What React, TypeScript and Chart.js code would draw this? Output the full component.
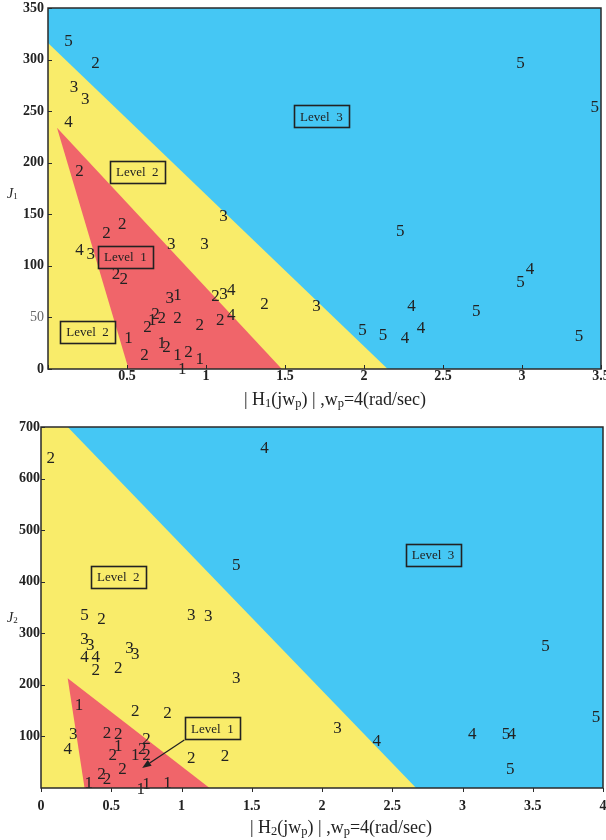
import React, { useEffect, useRef } from 'react';
import { Chart, registerables } from 'chart.js';
Chart.register(...registerables);

const SERIF = '"Liberation Serif", "DejaVu Serif", serif';

// ---------- Chart 1 data ----------
const j1XTicks = [0, 0.5, 1, 1.5, 2, 2.5, 3, 3.5];
const j1YTicks = [0, 50, 100, 150, 200, 250, 300, 350];
const j1Level3 = [[0, 0], [3.5, 0], [3.5, 350], [0, 350]];
const j1Level2 = [[0, 0], [0, 316], [2.15, 0]];
const j1Level1 = [[0.057, 234], [0.51, 0], [1.48, 0]];
const j1X = [0.13, 0.30, 0.165, 0.235, 0.13, 0.20, 2.99, 3.46, 1.11, 0.47, 0.37, 0.20, 0.27, 0.78, 0.99, 0.43, 0.48, 0.77, 0.82, 1.06, 1.11, 1.16, 1.37, 1.16, 1.09, 0.96, 0.82, 0.72, 0.68, 0.66, 0.63, 0.51, 0.72, 0.75, 0.61, 0.82, 0.89, 0.96, 0.85, 2.23, 3.05, 2.99, 1.70, 2.30, 2.71, 2.36, 1.99, 2.12, 2.26, 3.36];
const j1Y = [319, 298, 274, 263, 240, 193, 298, 255, 149, 142, 133, 116, 112, 122, 122, 93, 88, 70, 73, 72, 74, 78, 64, 53, 48, 44, 50, 50, 54, 48, 42, 31, 26, 22, 15, 15, 17, 11, 1, 135, 98, 85, 62, 62, 57, 41, 39, 34, 31, 33];
const j1Labels = ['5', '2', '3', '3', '4', '2', '5', '5', '3', '2', '2', '4', '3', '3', '3', '2', '2', '3', '1', '2', '3', '4', '2', '4', '2', '2', '2', '2', '2', '1', '2', '1', '1', '2', '2', '1', '2', '1', '1', '5', '4', '5', '3', '4', '5', '4', '5', '5', '4', '5'];
const j1BoxText = ['Level  2', 'Level  3', 'Level  1', 'Level  2'];
const j1BoxX = [0.565, 1.73, 0.49, 0.25];
const j1BoxY = [191, 245, 109, 36];

// ---------- Chart 2 data ----------
const j2XTicks = [0, 0.5, 1, 1.5, 2, 2.5, 3, 3.5, 4];
const j2YTicks = [100, 200, 300, 400, 500, 600, 700];
const j2Level3 = [[0, 0], [4, 0], [4, 700], [0, 700]];
const j2Level2 = [[0, 0], [0, 700], [0.19, 700], [2.67, 0]];
const j2Level1 = [[0.19, 213], [0.31, 0], [1.2, 0]];
const j2X = [0.07, 1.59, 1.39, 0.31, 0.43, 1.07, 1.19, 0.31, 0.35, 0.31, 0.39, 0.63, 0.67, 0.39, 0.55, 1.39, 0.27, 0.67, 0.90, 0.23, 0.19, 0.47, 0.55, 0.55, 0.51, 0.75, 0.72, 0.67, 0.75, 0.58, 0.43, 0.47, 0.34, 0.75, 0.71, 0.90, 1.07, 1.31, 3.59, 3.95, 2.11, 2.39, 3.07, 3.31, 3.35, 3.34];
const j2Y = [642, 661, 434, 337, 330, 337, 335, 291, 279, 256, 256, 273, 262, 231, 235, 215, 163, 151, 147, 107, 78, 109, 107, 83, 66, 97, 78, 66, 66, 39, 29, 19, 12, 10, 0, 12, 60, 64, 277, 140, 118, 93, 107, 107, 107, 39];
const j2Labels = ['2', '4', '5', '5', '2', '3', '3', '3', '3', '4', '4', '3', '3', '2', '2', '3', '1', '2', '2', '3', '4', '2', '2', '1', '2', '2', '2', '1', '2', '2', '2', '2', '1', '1', '1', '1', '2', '2', '5', '5', '3', '4', '4', '5', '4', '5'];
const j2BoxText = ['Level  2', 'Level  3', 'Level  1'];
const j2BoxX = [0.55, 2.79, 1.22];
const j2BoxY = [409, 452, 116];
const j2ArrowFrom = [1.02, 93];
const j2ArrowTo = [0.72, 39];

const BLUE = '#45C7F4';
const YELLOW = '#F9EC6A';
const RED = '#F0656A';
const INK = '#222222';

type Spec = {
  width: number; height: number; top: number;
  xMin: number; xMax: number; yMin: number; yMax: number;
  xTicks: number[]; yTicks: number[]; hideX0: boolean;
  regions: number[][][];
  xs: number[]; ys: number[]; labels: string[];
  boxText: string[]; boxX: number[]; boxY: number[];
  arrow?: { from: number[]; to: number[] };
  padTop: number; padRight: number; yAxisW: number; xAxisH: number;
  yTickPad: number; xTickPad: number;
  sub: string; titleCx: number; titleBase: number; jCx: number; jBase: number;
  xTickOut: boolean; lightTick?: number;
};

function polygon(points: number[][], color: string) {
  return {
    type: 'line',
    data: points.map(([x, y]) => ({ x, y })),
    fill: 'shape',
    backgroundColor: color,
    borderColor: 'rgba(0,0,0,0)',
    borderWidth: 0,
    pointRadius: 0,
    tension: 0,
  };
}

function makePlugins(spec: Spec) {
  const labelPlugin = {
    id: 'numLabels',
    afterDatasetsDraw(chart: any) {
      const ctx = chart.ctx;
      const meta = chart.getDatasetMeta(0);
      ctx.save();
      ctx.font = `17px ${SERIF}`;
      ctx.fillStyle = INK;
      ctx.textAlign = 'center';
      ctx.textBaseline = 'alphabetic';
      meta.data.forEach((el: any, i: number) => {
        ctx.fillText(spec.labels[i], el.x, el.y + 6);
      });
      // boxes
      const xs = chart.scales.x, ys = chart.scales.y;
      ctx.font = `13px ${SERIF}`;
      ctx.textBaseline = 'middle';
      ctx.strokeStyle = INK;
      ctx.lineWidth = 1.6;
      spec.boxText.forEach((t, i) => {
        const cx = xs.getPixelForValue(spec.boxX[i]);
        const cy = ys.getPixelForValue(spec.boxY[i]);
        const w = ctx.measureText(t).width + 12;
        const h = 22;
        ctx.strokeRect(Math.round(cx - w / 2) + 0.5, Math.round(cy - h / 2) + 0.5, Math.round(w), h);
        ctx.fillText(t, cx, cy + 1);
      });
      if (spec.arrow) {
        const x1 = xs.getPixelForValue(spec.arrow.from[0]);
        const y1 = ys.getPixelForValue(spec.arrow.from[1]);
        const x2 = xs.getPixelForValue(spec.arrow.to[0]);
        const y2 = ys.getPixelForValue(spec.arrow.to[1]);
        const ang = Math.atan2(y2 - y1, x2 - x1);
        const L = 9, W = 3.5;
        const bx = x2 - L * Math.cos(ang), by = y2 - L * Math.sin(ang);
        ctx.lineWidth = 1.3;
        ctx.beginPath();
        ctx.moveTo(x1, y1);
        ctx.lineTo(bx, by);
        ctx.stroke();
        ctx.fillStyle = INK;
        ctx.beginPath();
        ctx.moveTo(x2, y2);
        ctx.lineTo(bx + W * Math.sin(ang), by - W * Math.cos(ang));
        ctx.lineTo(bx - W * Math.sin(ang), by + W * Math.cos(ang));
        ctx.closePath();
        ctx.fill();
      }
      ctx.restore();
    },
  };
  const framePlugin = {
    id: 'frame',
    afterDraw(chart: any) {
      const ctx = chart.ctx;
      const a = chart.chartArea;
      const xs = chart.scales.x, ys = chart.scales.y;
      ctx.save();
      ctx.strokeStyle = '#2a2a2a';
      ctx.lineWidth = 1.5;
      ctx.strokeRect(a.left, a.top, a.right - a.left, a.bottom - a.top);
      ctx.lineWidth = 1;
      ctx.beginPath();
      spec.yTicks.forEach((v) => {
        const y = Math.round(ys.getPixelForValue(v)) + 0.5;
        ctx.moveTo(a.left, y);
        ctx.lineTo(a.left + 4, y);
      });
      spec.xTicks.forEach((v) => {
        const x = Math.round(xs.getPixelForValue(v)) + 0.5;
        if (spec.xTickOut) {
          ctx.moveTo(x, a.bottom);
          ctx.lineTo(x, a.bottom + 4);
        } else {
          ctx.moveTo(x, a.bottom);
          ctx.lineTo(x, a.bottom - 4);
        }
      });
      ctx.stroke();
      // axis titles
      ctx.fillStyle = INK;
      ctx.textBaseline = 'alphabetic';
      ctx.textAlign = 'left';
      const runs: [string, boolean][] = [
        ['| H', false], [spec.sub, true], ['(jw', false], ['p', true],
        [') | ,w', false], ['p', true], ['=4(rad/sec)', false],
      ];
      const big = `18px ${SERIF}`, small = `12.5px ${SERIF}`;
      let total = 0;
      runs.forEach(([t, s]) => { ctx.font = s ? small : big; total += ctx.measureText(t).width; });
      let x = spec.titleCx - total / 2;
      runs.forEach(([t, s]) => {
        ctx.font = s ? small : big;
        ctx.fillText(t, x, spec.titleBase + (s ? 2 : 0));
        x += ctx.measureText(t).width;
      });
      ctx.font = `italic 14px ${SERIF}`;
      const jw = ctx.measureText('J').width;
      ctx.fillText('J', spec.jCx - 5, spec.jBase);
      ctx.font = `9px ${SERIF}`;
      ctx.fillText(spec.sub, spec.jCx - 5 + jw, spec.jBase + 1);
      ctx.restore();
    },
  };
  return [labelPlugin, framePlugin];
}

function ChartPanel({ spec }: { spec: Spec }) {
  const ref = useRef<HTMLCanvasElement | null>(null);
  useEffect(() => {
    if (!ref.current) return;
    const labelData = spec.xs.map((x, i) => ({ x, y: spec.ys[i] }));
    const boldFont = { family: SERIF, size: 14, weight: 'bold' as const };
    const chart = new Chart(ref.current, {
      type: 'line',
      data: {
        datasets: [
          { type: 'line', data: labelData, showLine: false, pointRadius: 0, borderWidth: 0 } as any,
          polygon(spec.regions[2], RED) as any,
          polygon(spec.regions[1], YELLOW) as any,
          polygon(spec.regions[0], BLUE) as any,
        ],
      },
      options: {
        animation: false,
        responsive: false,
        events: [],
        layout: { padding: { top: spec.padTop, right: spec.padRight, left: 0, bottom: 0 } },
        plugins: { legend: { display: false }, tooltip: { enabled: false } },
        scales: {
          x: {
            type: 'linear',
            min: spec.xMin,
            max: spec.xMax,
            grid: { display: false, drawTicks: false },
            border: { display: false },
            afterBuildTicks: (s: any) => { s.ticks = spec.xTicks.map((v) => ({ value: v })); },
            afterFit: (s: any) => { s.height = spec.xAxisH; s.paddingLeft = 0; s.paddingRight = 0; },
            ticks: {
              autoSkip: false,
              maxRotation: 0,
              padding: spec.xTickPad,
              color: INK,
              font: boldFont,
              callback: (v: any) => (spec.hideX0 && v === 0 ? '' : String(v)),
            },
          },
          y: {
            type: 'linear',
            min: spec.yMin,
            max: spec.yMax,
            grid: { display: false, drawTicks: false },
            border: { display: false },
            afterBuildTicks: (s: any) => { s.ticks = spec.yTicks.map((v) => ({ value: v })); },
            afterFit: (s: any) => { s.width = spec.yAxisW; s.paddingTop = 0; s.paddingBottom = 0; },
            ticks: {
              autoSkip: false,
              padding: spec.yTickPad,
              color: (c: any) => (c.tick && c.tick.value === spec.lightTick ? '#666' : INK),
              font: (c: any) => (c.tick && c.tick.value === spec.lightTick
                ? { family: SERIF, size: 14, weight: 'normal' }
                : boldFont),
              callback: (v: any) => String(v),
            },
          },
        },
      } as any,
      plugins: makePlugins(spec) as any,
    });
    return () => chart.destroy();
  }, [spec]);
  return (
    <canvas
      ref={ref}
      width={spec.width}
      height={spec.height}
      style={{ position: 'absolute', left: 0, top: spec.top, width: spec.width, height: spec.height, display: 'block' }}
    />
  );
}

const spec1: Spec = {
  width: 606, height: 415, top: 0,
  xMin: 0, xMax: 3.5, yMin: 0, yMax: 350,
  xTicks: j1XTicks, yTicks: j1YTicks, hideX0: true,
  regions: [j1Level3, j1Level2, j1Level1],
  xs: j1X, ys: j1Y, labels: j1Labels,
  boxText: j1BoxText, boxX: j1BoxX, boxY: j1BoxY,
  padTop: 8, padRight: 5, yAxisW: 48, xAxisH: 46,
  yTickPad: 4, xTickPad: -1,
  sub: '1', titleCx: 335, titleBase: 405, jCx: 12, jBase: 198,
  xTickOut: false, lightTick: 50,
};

const spec2: Spec = {
  width: 606, height: 425, top: 415,
  xMin: 0, xMax: 4, yMin: 0, yMax: 700,
  xTicks: j2XTicks, yTicks: j2YTicks, hideX0: false,
  regions: [j2Level3, j2Level2, j2Level1],
  xs: j2X, ys: j2Y, labels: j2Labels,
  boxText: j2BoxText, boxX: j2BoxX, boxY: j2BoxY,
  arrow: { from: j2ArrowFrom, to: j2ArrowTo },
  padTop: 12, padRight: 3, yAxisW: 41, xAxisH: 52,
  yTickPad: 1, xTickPad: 10,
  sub: '2', titleCx: 341, titleBase: 418, jCx: 12, jBase: 207,
  xTickOut: true,
};

export default function App() {
  return (
    <div style={{ position: 'absolute', left: 0, top: 0, width: 606, height: 840, background: '#fff' }}>
      <ChartPanel spec={spec1} />
      <ChartPanel spec={spec2} />
    </div>
  );
}
